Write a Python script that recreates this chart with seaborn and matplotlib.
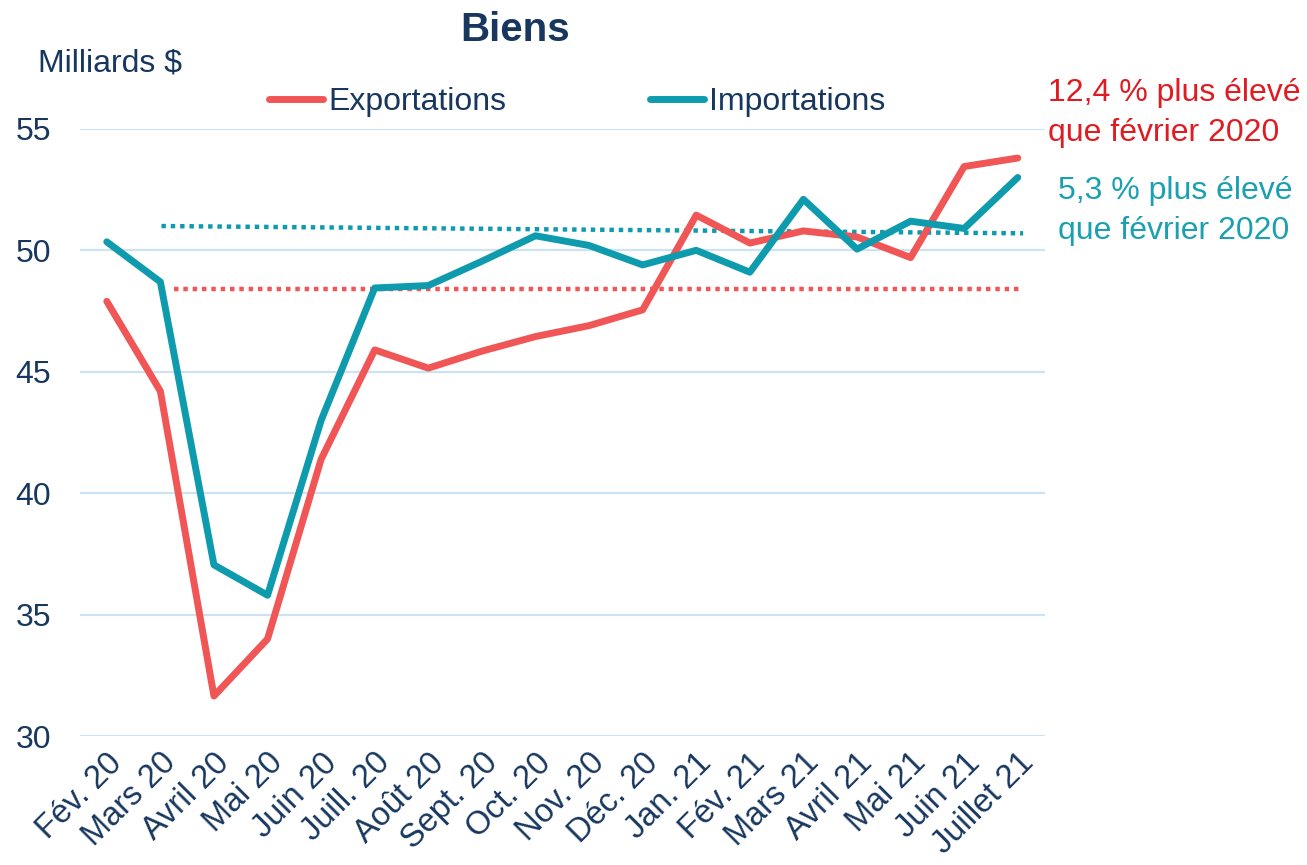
import numpy as np
import pandas as pd
import matplotlib
matplotlib.use("Agg")
import matplotlib.pyplot as plt
import seaborn as sns

# Data (billions of dollars)
months = ["Fév. 20", "Mars 20", "Avril 20", "Mai 20", "Juin 20", "Juill. 20",
          "Août 20", "Sept. 20", "Oct. 20", "Nov. 20", "Déc. 20", "Jan. 21",
          "Fév. 21", "Mars 21", "Avril 21", "Mai 21", "Juin 21", "Juillet 21"]
exports = [47.9, 44.2, 31.65, 34.0, 41.4, 45.9, 45.15, 45.85, 46.45, 46.9,
           47.55, 51.45, 50.3, 50.8, 50.55, 49.7, 53.45, 53.8]
imports = [50.35, 48.7, 37.05, 35.8, 43.0, 48.45, 48.55, 49.55, 50.6, 50.2,
           49.4, 50.0, 49.1, 52.1, 50.05, 51.2, 50.9, 53.0]

# reference (dotted) levels: [start, end] positions and values
exp_ref_x = [1.26, 17.04]
exp_ref_y = [48.4, 48.4]
imp_ref_x = [1.02, 17.1]
imp_ref_y = [51.0, 50.7]

red = "#F05656"
teal = "#0E9BAD"
navy = "#17375E"
grid_col = "#CCE2F5"

sns.set_theme(style="white")
plt.rcParams['font.family'] = ['Liberation Sans', 'DejaVu Sans']

df = pd.DataFrame({
    "idx": list(range(len(months))) * 2,
    "valeur": exports + imports,
    "serie": ["Exportations"] * len(months) + ["Importations"] * len(months),
})

fig = plt.figure(figsize=(13.07, 8.65), dpi=100)
ax = fig.add_axes([0.0612, 0.149, 0.738, 0.702])

for y in [30, 35, 40, 45, 50, 55]:
    ax.axhline(y, color=grid_col, lw=1.6, zorder=0)

ax.plot(exp_ref_x, exp_ref_y, color=red, lw=3.2, ls=(0, (1, 1.1)), zorder=1)
ax.plot(imp_ref_x, imp_ref_y, color=teal, lw=3.2, ls=(0, (1, 1.1)), zorder=1)

sns.lineplot(data=df, x="idx", y="valeur", hue="serie",
             palette={"Exportations": red, "Importations": teal},
             lw=5, ax=ax, legend=True, zorder=3)

ax.set_xlim(-0.5, len(months) - 0.5)
ax.set_ylim(30, 55)
ax.set_yticks([30, 35, 40, 45, 50, 55])
ax.set_yticklabels(["30", "35", "40", "45", "50", "55"], fontsize=23, color=navy)
ax.set_xticks(range(len(months)))
ax.set_xticklabels(months, rotation=45, ha="right", va="top",
                   rotation_mode="anchor", fontsize=23.5, color=navy)
ax.tick_params(axis="both", length=0)
ax.tick_params(axis="x", pad=8)
ax.tick_params(axis="y", pad=21)
ax.set_xlabel("")
ax.set_ylabel("")
for s in ax.spines.values():
    s.set_visible(False)

handles, labels = ax.get_legend_handles_labels()
ax.legend(handles, labels, loc="center", bbox_to_anchor=(577 / 1307, 1 - 102 / 865),
          bbox_transform=fig.transFigure, ncol=2, frameon=False, fontsize=23,
          handlelength=1.7, handletextpad=0.15, columnspacing=4.5,
          labelcolor=navy)

fig.text(515 / 1307, 1 - 30 / 865, "Biens", ha="center", va="center",
         fontsize=29, fontweight="bold", color=navy)
fig.text(38 / 1307, 1 - 64 / 865, "Milliards $", ha="left", va="center",
         fontsize=23, color=navy)
fig.text(1048 / 1307, 1 - 78 / 865, "12,4 % plus élevé\nque février 2020",
         ha="left", va="top", fontsize=23, color="#E01B22", linespacing=1.42)
fig.text(1058 / 1307, 1 - 176 / 865, "5,3 % plus élevé\nque février 2020",
         ha="left", va="top", fontsize=23, color="#1AA0B0", linespacing=1.42)

fig.savefig("out.png", dpi=100)
